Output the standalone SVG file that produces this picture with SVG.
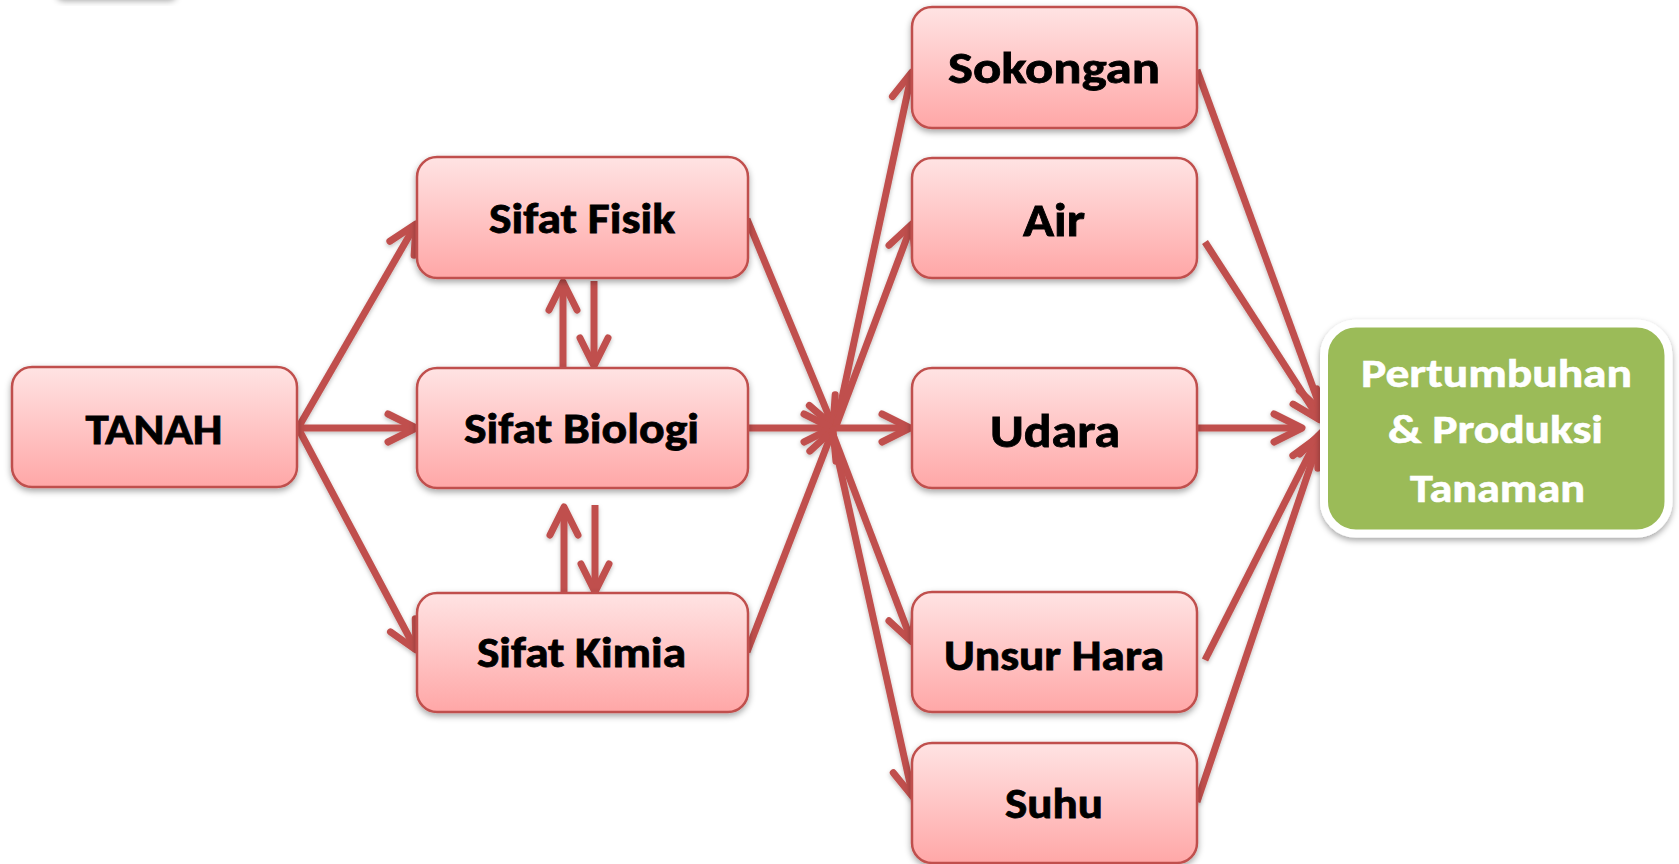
<svg xmlns="http://www.w3.org/2000/svg" width="1679" height="864" viewBox="0 0 1679 864">
<defs>
<linearGradient id="pink" x1="0" y1="0" x2="0" y2="1">
<stop offset="0" stop-color="#FFE3E3"/>
<stop offset="1" stop-color="#FFA7A7"/>
</linearGradient>
<filter id="sh" x="-10%" y="-10%" width="120%" height="130%">
<feDropShadow dx="0" dy="3" stdDeviation="3" flood-color="#000" flood-opacity="0.35"/>
</filter>
<filter id="lsh" x="-10%" y="-10%" width="120%" height="120%">
<feDropShadow dx="0" dy="2" stdDeviation="2" flood-color="#000" flood-opacity="0.25"/>
</filter>
<marker id="ah" markerUnits="userSpaceOnUse" markerWidth="60" markerHeight="60" viewBox="-40 -30 50 60" refX="0" refY="0" orient="auto">
<path d="M-28,-14 L0,0 L-28,14" fill="none" stroke="#C0504D" stroke-width="7" stroke-linecap="round" stroke-linejoin="round"/>
</marker>
<style>
.box{fill:url(#pink);stroke:#C0504D;stroke-width:2.5;filter:url(#sh)}
.t{font-family:Carlito,Lato,"Liberation Sans",sans-serif;font-weight:bold;fill:#000;stroke:#000;stroke-width:0.8;text-anchor:middle}
.tw{font-family:Carlito,Lato,"Liberation Sans",sans-serif;font-weight:bold;fill:#fff;stroke:#fff;stroke-width:0.6;text-anchor:middle;font-size:40px}
.c line{stroke:#C0504D;stroke-width:7;marker-end:url(#ah)}
</style>
</defs>
<rect x="56" y="-40" width="121" height="38" rx="8" fill="#fff" filter="url(#sh)"/>
<g id="connectors" class="c" filter="url(#lsh)">
<line x1="298" y1="428" x2="416" y2="224"/>
<line x1="298" y1="428" x2="416" y2="428"/>
<line x1="298" y1="428" x2="416" y2="650"/>
<line x1="563" y1="368" x2="563" y2="282"/>
<line x1="594" y1="281" x2="594" y2="366"/>
<line x1="564" y1="593" x2="564" y2="507"/>
<line x1="595" y1="505" x2="595" y2="592"/>
<line x1="747" y1="219" x2="833" y2="426"/>
<line x1="748" y1="428" x2="832" y2="428"/>
<line x1="747" y1="652" x2="833" y2="430"/>
<line x1="836" y1="426" x2="912" y2="72"/>
<line x1="836" y1="426" x2="912" y2="224"/>
<line x1="836" y1="428" x2="910" y2="428"/>
<line x1="832" y1="432" x2="912" y2="642"/>
<line x1="832" y1="432" x2="913" y2="797"/>
<line x1="1197" y1="70" x2="1322" y2="412"/>
<line x1="1205" y1="242" x2="1320" y2="420"/>
<line x1="1197" y1="428" x2="1302" y2="428"/>
<line x1="1205" y1="660" x2="1318" y2="437"/>
<line x1="1197" y1="802" x2="1322" y2="432"/>
</g>
<g id="tanah"><rect class="box" x="12" y="367" width="285" height="120" rx="20"/><text class="t" x="154" y="444" font-size="43" textLength="137" lengthAdjust="spacingAndGlyphs">TANAH</text></g>
<g id="sifat-fisik"><rect class="box" x="417" y="157" width="331" height="121" rx="20"/><text class="t" x="582" y="233" font-size="43" textLength="186" lengthAdjust="spacingAndGlyphs">Sifat Fisik</text></g>
<g id="sifat-biologi"><rect class="box" x="417" y="368" width="331" height="120" rx="20"/><text class="t" x="581.5" y="443" font-size="43" textLength="235" lengthAdjust="spacingAndGlyphs">Sifat Biologi</text></g>
<g id="sifat-kimia"><rect class="box" x="417" y="593" width="331" height="119" rx="20"/><text class="t" x="581.5" y="667" font-size="42" textLength="209" lengthAdjust="spacingAndGlyphs">Sifat Kimia</text></g>
<g id="sokongan"><rect class="box" x="912" y="7" width="285" height="121" rx="20"/><text class="t" x="1054" y="83" font-size="45" textLength="212" lengthAdjust="spacingAndGlyphs">Sokongan</text></g>
<g id="air"><rect class="box" x="912" y="158" width="285" height="120" rx="20"/><text class="t" x="1054" y="236" font-size="47" textLength="62" lengthAdjust="spacingAndGlyphs">Air</text></g>
<g id="udara"><rect class="box" x="912" y="368" width="285" height="120" rx="20"/><text class="t" x="1055" y="447" font-size="47" textLength="130" lengthAdjust="spacingAndGlyphs">Udara</text></g>
<g id="unsur-hara"><rect class="box" x="912" y="592" width="285" height="120" rx="20"/><text class="t" x="1054" y="670" font-size="42" textLength="220" lengthAdjust="spacingAndGlyphs">Unsur Hara</text></g>
<g id="suhu"><rect class="box" x="912" y="743" width="285" height="120" rx="20"/><text class="t" x="1054" y="818" font-size="43" textLength="98" lengthAdjust="spacingAndGlyphs">Suhu</text></g>
<g id="pertumbuhan"><rect x="1324" y="323.5" width="344.5" height="210" rx="32" fill="#9BBB59" stroke="#fff" stroke-width="8" filter="url(#sh)"/>
<text class="tw" x="1496.5" y="387" textLength="271" lengthAdjust="spacingAndGlyphs">Pertumbuhan</text>
<text class="tw" x="1495.5" y="443" textLength="215" lengthAdjust="spacingAndGlyphs">&amp; Produksi</text>
<text class="tw" x="1497.5" y="502" textLength="175" lengthAdjust="spacingAndGlyphs">Tanaman</text></g>
</svg>
